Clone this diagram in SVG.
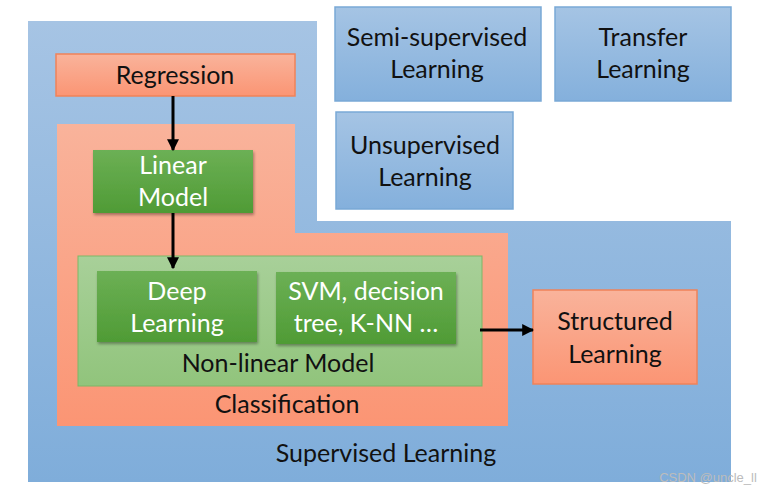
<svg xmlns="http://www.w3.org/2000/svg" width="772" height="493" viewBox="0 0 772 493">
<defs>
<linearGradient id="gBlue" x1="0" y1="0" x2="0" y2="1"><stop offset="0" stop-color="#a6c4e4"/><stop offset="1" stop-color="#7fadda"/></linearGradient>
<linearGradient id="gBlueBox" x1="0" y1="0" x2="0" y2="1"><stop offset="0" stop-color="#a5c4e4"/><stop offset="1" stop-color="#84b0dc"/></linearGradient>
<linearGradient id="gSalmon" x1="0" y1="0" x2="0" y2="1"><stop offset="0" stop-color="#f9b39b"/><stop offset="1" stop-color="#fb9574"/></linearGradient>
<linearGradient id="gGreen" x1="0" y1="0" x2="0" y2="1"><stop offset="0" stop-color="#6cb055"/><stop offset="1" stop-color="#4f9b35"/></linearGradient>
<linearGradient id="gLightGreen" x1="0" y1="0" x2="0" y2="1"><stop offset="0" stop-color="#a8d099"/><stop offset="1" stop-color="#91c47c"/></linearGradient>
<filter id="shadow" x="-10%" y="-10%" width="130%" height="130%"><feDropShadow dx="1" dy="2" stdDeviation="1.5" flood-color="#000" flood-opacity="0.35"/></filter>
<marker id="arrow" viewBox="0 0 10 10" refX="9" refY="5" markerWidth="4" markerHeight="4" orient="auto" markerUnits="strokeWidth"><path d="M0,0 L10,5 L0,10 Z" fill="#000"/></marker>
</defs>
<style>
text{font-family:Lato,"Open Sans","Liberation Sans",sans-serif;font-size:25px;text-anchor:middle;fill:#111}
.w{fill:#fff}
.blueBox{fill:url(#gBlueBox);stroke:#79a9d6;stroke-width:1.5}
.salBox{fill:url(#gSalmon);stroke:#f08359;stroke-width:1.5}
.grBox{fill:url(#gGreen);filter:url(#shadow)}
.conn{stroke:#000;stroke-width:3;fill:none;marker-end:url(#arrow)}
</style>
<rect width="772" height="493" fill="#fff"/>
<g id="supervised">
<path d="M28,21 H317 V221 H731 V482 H28 Z" fill="url(#gBlue)"/>
<text x="386" y="462">Supervised Learning</text>
</g>
<g id="semi-supervised">
<rect class="blueBox" x="335" y="7" width="206" height="94"/>
<text x="437" y="46">Semi-supervised</text>
<text x="437" y="78">Learning</text>
</g>
<g id="transfer">
<rect class="blueBox" x="555" y="7" width="176" height="94"/>
<text x="643" y="46">Transfer</text>
<text x="643" y="78">Learning</text>
</g>
<g id="unsupervised">
<rect class="blueBox" x="336" y="112" width="177" height="97"/>
<text x="425" y="154">Unsupervised</text>
<text x="425" y="186">Learning</text>
</g>
<g id="regression">
<rect class="salBox" x="56" y="54" width="239" height="42"/>
<text x="175" y="84">Regression</text>
</g>
<g id="classification">
<path d="M57,124 H295 V233 H508 V426 H57 Z" fill="url(#gSalmon)"/>
<text x="287" y="413">Classification</text>
</g>
<g id="linear-model">
<rect class="grBox" x="93" y="150" width="160" height="63"/>
<text class="w" x="173" y="174">Linear</text>
<text class="w" x="173" y="206">Model</text>
</g>
<g id="non-linear-model">
<rect x="78" y="256" width="404" height="130" fill="url(#gLightGreen)" stroke="#7db766" stroke-width="1"/>
<text x="278" y="372">Non-linear Model</text>
</g>
<g id="deep-learning">
<rect class="grBox" x="97" y="271" width="160" height="71"/>
<text class="w" x="177" y="300">Deep</text>
<text class="w" x="177" y="332">Learning</text>
</g>
<g id="svm">
<rect class="grBox" x="276" y="272" width="180" height="72"/>
<text class="w" x="366" y="300">SVM, decision</text>
<text class="w" x="366" y="332">tree, K-NN …</text>
</g>
<g id="structured">
<rect class="salBox" x="533" y="290" width="164" height="94"/>
<text x="615" y="330">Structured</text>
<text x="615" y="363">Learning</text>
</g>
<g id="connectors">
<line class="conn" x1="173" y1="96" x2="173" y2="150"/>
<line class="conn" x1="173" y1="213" x2="173" y2="268"/>
<line class="conn" x1="480" y1="330" x2="533" y2="330"/>
</g>
<text x="708" y="482" style="font-family:'Liberation Sans',sans-serif;font-size:13px;fill:#bcbcbc">CSDN @uncle_ll</text>
</svg>
